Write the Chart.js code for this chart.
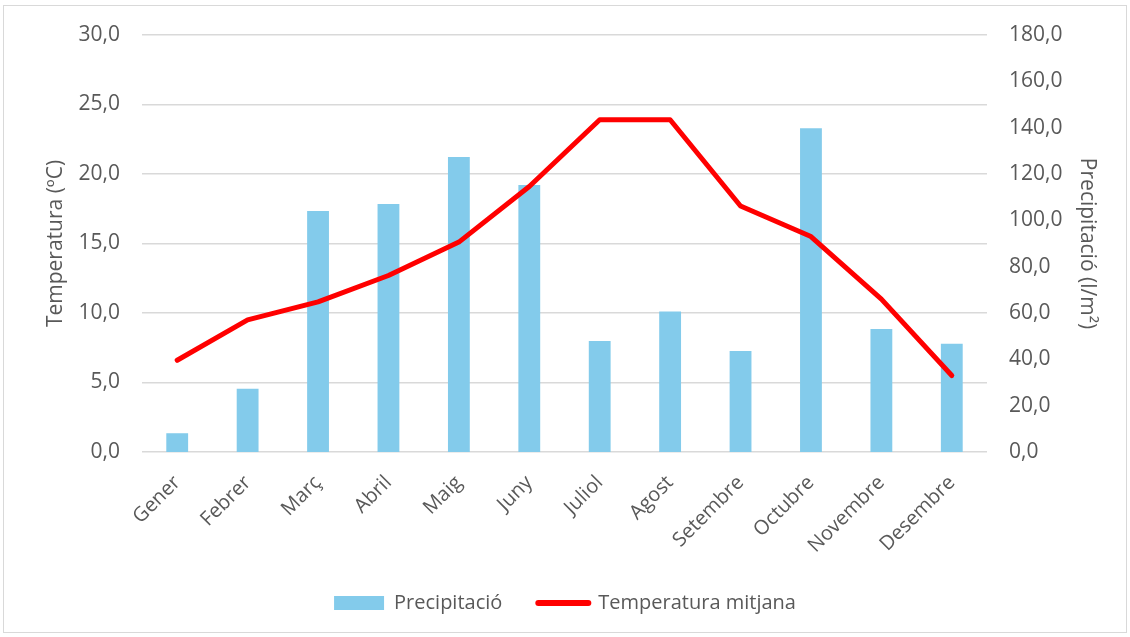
<!DOCTYPE html>
<html>
<head>
<meta charset="utf-8">
<title>Temperatura i precipitació</title>
<script src="https://cdn.jsdelivr.net/npm/chart.js@4/dist/chart.umd.min.js"></script>
<style>
	html, body { margin: 0; padding: 0; background: #fff; }
	#frame { position: absolute; left: 3px; top: 5px; width: 1122px; height: 626px; border: 1px solid #d9d9d9; }
	#wrap { position: absolute; left: 0; top: 0; width: 1130px; height: 637px; }
</style>
</head>
<body>
<div id="frame"></div>
<div id="wrap"><canvas id="chart" width="1130" height="637"></canvas></div>
<script>
	'use strict';

	var months = [ 'Gener', 'Febrer', 'Març', 'Abril', 'Maig', 'Juny', 'Juliol', 'Agost', 'Setembre', 'Octubre', 'Novembre', 'Desembre' ];
	var precipitation = [ 8.1, 27.3, 104.0, 107.0, 127.3, 115.2, 47.9, 60.7, 43.6, 139.8, 53.1, 46.7 ];
	var temperature = [ 6.6, 9.5, 10.8, 12.7, 15.1, 19.1, 23.9, 23.9, 17.7, 15.5, 11.0, 5.5 ];

	var text_color = '#595959';
	var font_family = '"Open Sans", sans-serif';

	function comma( value ) {
		return Number( value ).toFixed( 1 ).replace( '.', ',' );
	}

	var ctx = document.getElementById( 'chart' );
	var chart = new Chart( ctx, {
		data: {
			labels: months,
			datasets: [ {
				type: 'line',
				label: 'Temperatura mitjana',
				data: temperature,
				yAxisID: 'y',
				borderColor: '#ff0000',
				backgroundColor: '#ff0000',
				borderWidth: 5,
				borderCapStyle: 'round',
				borderJoinStyle: 'round',
				pointRadius: 0,
				tension: 0,
				order: 1,
			}, {
				type: 'bar',
				label: 'Precipitació',
				data: precipitation,
				yAxisID: 'y2',
				backgroundColor: '#83cbeb',
				barPercentage: 0.31,
				categoryPercentage: 1,
				order: 2,
			} ]
		},
		options: {
			responsive: false,
			animation: false,
			layout: { padding: { top: 35, bottom: 14, left: 0, right: 0 } },
			plugins: {
				tooltip: { enabled: false },
				legend: {
					position: 'bottom',
					labels: {
						color: text_color,
						font: { family: font_family, size: 20 },
						usePointStyle: true,
						pointStyleWidth: 50,
						boxWidth: 50,
						boxHeight: 14,
						padding: 36,
						generateLabels: function( c ) {
							return [ {
								text: 'Precipitació',
								fillStyle: '#83cbeb',
								strokeStyle: '#83cbeb',
								lineWidth: 0,
								pointStyle: 'rect',
								datasetIndex: 1,
								fontColor: text_color,
							}, {
								text: 'Temperatura mitjana',
								fillStyle: '#ff0000',
								strokeStyle: '#ff0000',
								lineWidth: 6,
								lineCap: 'round',
								pointStyle: 'line',
								datasetIndex: 0,
								fontColor: text_color,
							} ];
						}
					}
				}
			},
			scales: {
				x: {
					grid: { display: false },
					border: { display: false },
					ticks: {
						color: text_color,
						font: { family: font_family, size: 20 },
						maxRotation: 45,
						minRotation: 45,
						padding: 11,
					},
					afterFit: function( scale ) { scale.height = 105; }
				},
				y: {
					position: 'left',
					min: 0,
					max: 30,
					grid: { color: '#d9d9d9', lineWidth: 1.5, drawTicks: false },
					border: { display: false },
					ticks: {
						stepSize: 5,
						color: text_color,
						font: { family: font_family, size: 21 },
						padding: 22,
						callback: function( v ) { return comma( v ); }
					},
					title: {
						display: true,
						text: 'Temperatura (ºC)',
						color: text_color,
						font: { family: font_family, size: 21 },
						padding: { top: 43, bottom: 0 },
					},
					afterFit: function( scale ) { scale.width = 142; }
				},
				y2: {
					position: 'right',
					min: 0,
					max: 180,
					grid: { display: false, drawTicks: false },
					border: { display: false },
					ticks: {
						stepSize: 20,
						color: text_color,
						font: { family: font_family, size: 21 },
						padding: 22,
						callback: function( v ) { return comma( v ); }
					},
					title: {
						display: true,
						text: 'Precipitació (l/m²)',
						color: text_color,
						font: { family: font_family, size: 21 },
						padding: { top: 30, bottom: 0 },
					},
					afterFit: function( scale ) { scale.width = 143; }
				}
			}
		}
	} );
</script>
</body>
</html>
